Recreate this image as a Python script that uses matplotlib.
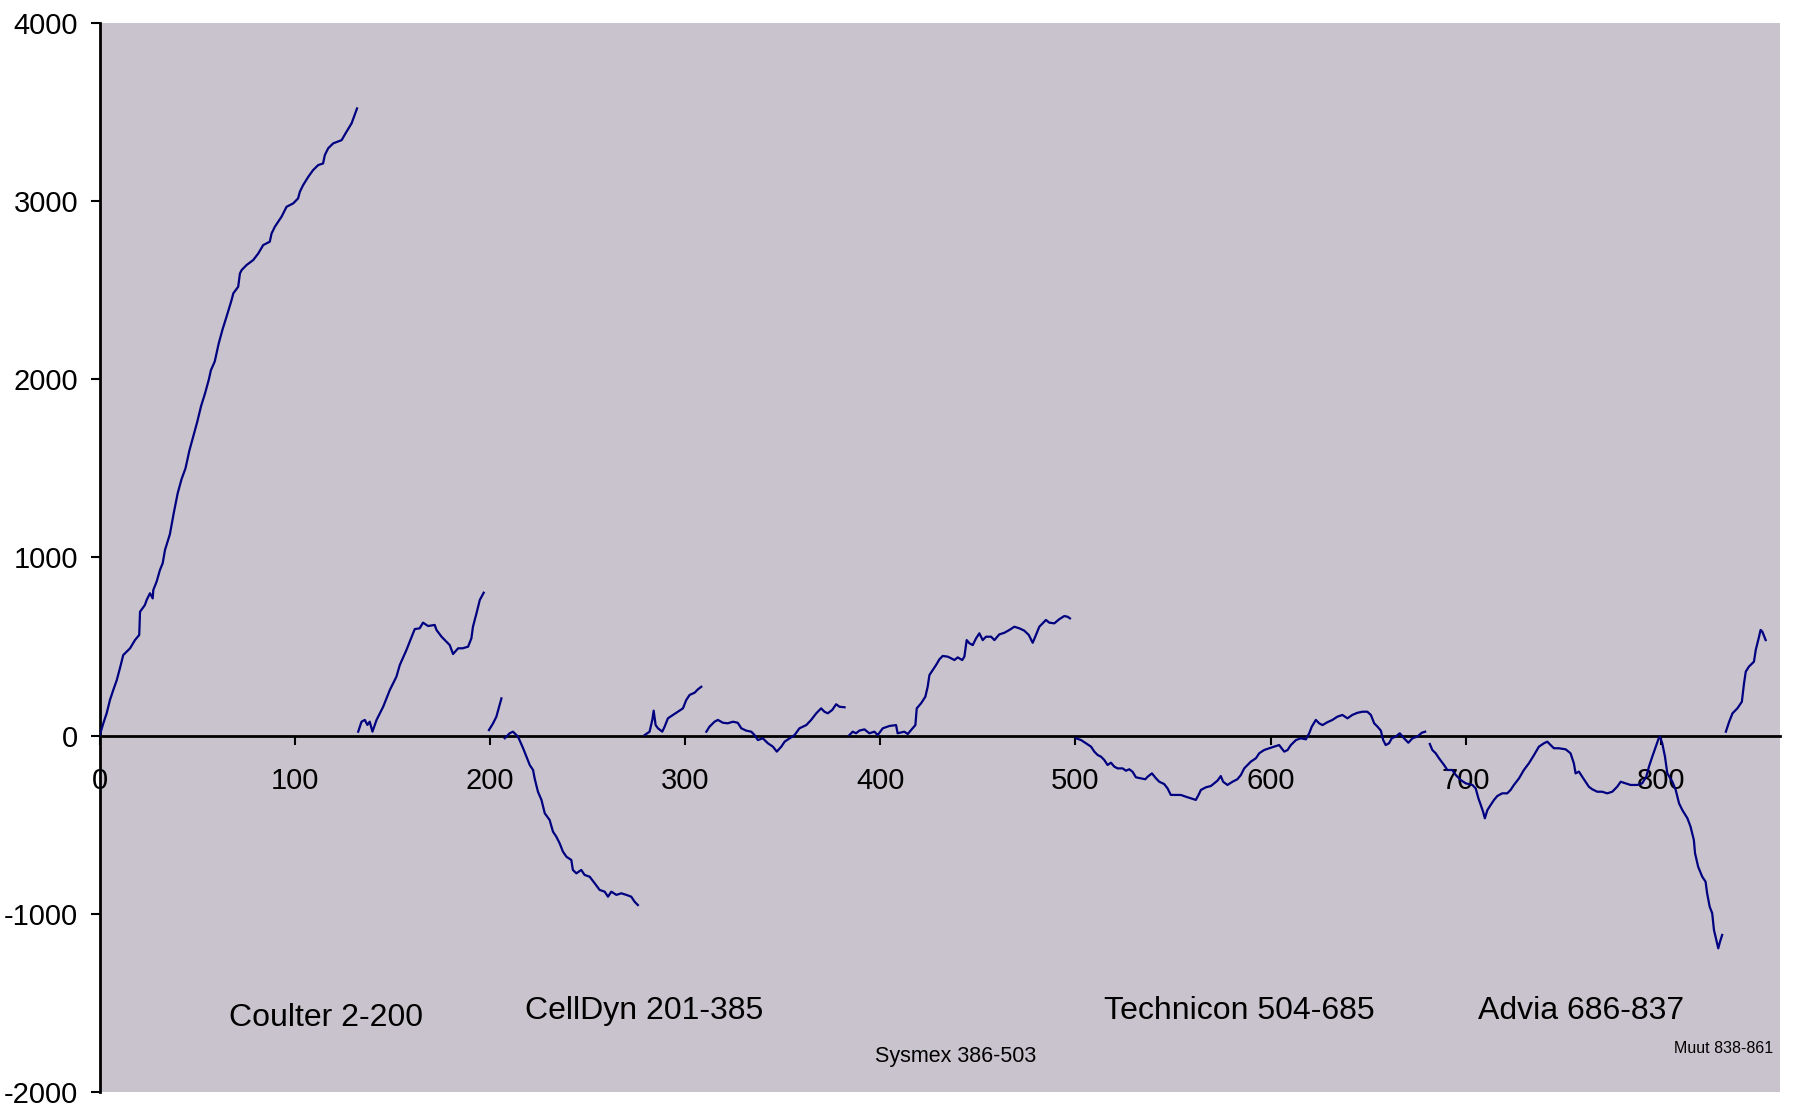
import matplotlib
matplotlib.use("Agg")
import matplotlib.pyplot as plt

plt.rcParams['font.family'] = ['Liberation Sans', 'DejaVu Sans']
plt.rcParams['axes.unicode_minus'] = False

# segments of the cumulative curve, one per analyser run (x = sample number)
coulter_x = [0, 1.9, 3.6, 5.3, 7.0, 8.8, 10.4, 12.1, 15.6, 18.1, 20.3, 20.7, 23.2, 24.1, 25.8, 27.2,
             27.5, 29.2, 30.9, 32.3, 33.5, 36, 38, 40, 42, 44, 46, 48, 50, 52, 54, 56, 57, 59, 61, 63,
             65, 67.6, 68.5, 71, 71.9, 72.8, 75.3, 78.7, 81.3, 83.8, 87.2, 88.1, 89.8, 93.2, 95.8, 99.2,
             101.7, 102.6, 104.3, 106.9, 109.4, 112, 114.5, 115.4, 117.1, 119.7, 124, 126.5, 129.1, 131.9]
coulter_y = [0, 69, 125, 200, 256, 312, 378, 452, 490, 536, 565, 695, 733, 761, 799, 770,
             817, 864, 929, 967, 1042, 1130, 1250, 1360, 1440, 1500, 1600, 1680, 1760, 1850, 1920, 2000, 2050, 2100, 2200, 2280,
             2350, 2444, 2482, 2519, 2594, 2613, 2641, 2669, 2706, 2753, 2772, 2818, 2856, 2912, 2968, 2987,
             3015, 3052, 3090, 3136, 3174, 3202, 3211, 3258, 3296, 3324, 3342, 3389, 3436, 3520]

seg2_x = [132.5, 134.2, 135.9, 137.2, 138.4, 139.8, 141.9, 145.3, 148.7, 152.1, 153.8, 157.2, 160.6, 161.5,
          164, 165.7, 168.3, 171.7, 172.6, 175.2, 177.7, 179.4, 181.1, 183.7, 186, 188.8, 190.5, 191.3,
          193.1, 194.8, 196.8]
seg2_y = [22, 78, 88, 60, 78, 22, 88, 162, 256, 331, 396, 480, 574, 598,
          602, 634, 615, 621, 593, 555, 527, 508, 458, 490, 490, 499, 546, 611,
          686, 761, 802]

seg3_x = [199.5, 201.6, 203.3, 204.7, 205.9]
seg3_y = [31, 69, 106, 162, 209]

celldyn_x = [207.6, 210.1, 211.8, 214.4, 217, 218.7, 220.4, 222.1, 222.9, 224.6, 226.4, 228.1, 230.6, 232.3,
             234, 235.7, 237.4, 239.2, 241.7, 242.5, 244.3, 246.8, 248.5, 251.1, 253.7, 256.2, 258.8, 260.5,
             262.2, 264.8, 267.3, 269.9, 272.4, 274.1, 275.8]
celldyn_y = [-15, 13, 22, -6, -71, -118, -165, -193, -240, -315, -361, -436, -474, -539,
             -567, -604, -651, -680, -698, -754, -773, -754, -782, -792, -829, -866, -876, -904,
             -876, -894, -885, -894, -904, -932, -951]

seg5_x = [279.3, 281.8, 283.2, 283.9, 284.9, 286.1, 288.3, 289.5, 291.2, 293.8, 296.3, 298.9, 300.6,
          302.3, 304.9, 306.6, 308.3]
seg5_y = [3, 22, 88, 140, 59, 41, 22, 50, 97, 116, 134, 153, 200, 228, 241, 260, 274]

seg6_x = [310.9, 312.5, 315.1, 316.8, 319.4, 321.9, 324.5, 327, 328.8, 331.3, 333.9, 335.6, 337.3, 339.8,
          342.4, 345, 347, 349.3, 351, 353.6, 356.1, 358.6, 362.1, 364.6, 367.2, 369.7, 371.4, 373.1,
          375.4, 377.4, 379.1, 381.7]
seg6_y = [22, 50, 78, 88, 72, 69, 78, 72, 41, 28, 22, 3, -25, -15,
          -43, -62, -90, -62, -34, -15, 3, 41, 59, 88, 125, 153, 134, 125,
          144, 176, 162, 159]

sysmex_x = [384.2, 385.9, 387.6, 389.3, 391.9, 394.4, 397, 398.7, 401.3, 404.7, 408.1, 408.9, 412.3, 414.1,
            415.8, 418, 418.7, 420.9, 423.1, 424.3, 425.2, 426.9, 428.6, 430.3, 432, 434.6, 436.3, 438,
            439.7, 442, 443.1, 444.3, 445.7, 447.4, 449.1, 450.8, 452.5, 454.2, 456.8, 458.5, 461, 463.6,
            466.2, 468.7, 471.3, 473.8, 476.1, 478.1, 479.8, 481.5, 483.2, 484.9, 486.6, 489.2, 491.7,
            494.3, 496, 497.2]
sysmex_y = [3, 22, 13, 28, 35, 13, 22, 3, 41, 54, 59, 13, 22, 9,
            31, 59, 153, 181, 218, 274, 340, 368, 396, 428, 447, 443, 434, 424,
            439, 424, 443, 536, 518, 508, 546, 574, 536, 555, 555, 536, 568, 577,
            593, 611, 602, 589, 565, 521, 565, 611, 630, 649, 634, 630, 653,
            671, 667, 658]

technicon_x = [500.3, 502.9, 505.4, 508, 509.7, 511.4, 513.1, 514.8, 516.5, 518.2, 519.9, 521.6, 524.2,
               525.9, 527.6, 529.3, 531, 533.6, 535.8, 537, 539.2, 541.3, 543, 545.5, 547.2, 548.9, 551.5,
               554, 556.6, 559.2, 561.7, 563.1, 564.3, 566.9, 569.4, 571.1, 572.8, 574.5, 575.7, 577.9,
               580.5, 583, 584.8, 586.5, 588.2, 589.9, 592.5, 594.2, 596.7, 599.3, 601.8, 604.4, 607,
               608.7, 610.4, 613, 615.5, 618.1, 619.8, 621.1, 623.2, 624.9, 626.6, 629.1, 631.7, 634.2,
               636.8, 639.4, 641.9, 644.5, 647.1, 649.6, 651.4, 653.1, 654.8, 656.5, 657.7, 659, 660.7,
               662.1, 664.1, 666.2, 668.4, 670.6, 672.7, 675.2, 677.5, 679.2]
technicon_y = [-15, -25, -43, -62, -90, -109, -118, -137, -165, -152, -174, -184, -184,
               -197, -189, -203, -234, -240, -245, -231, -212, -240, -259, -272, -296, -333, -333,
               -333, -343, -352, -361, -333, -305, -290, -283, -268, -253, -227, -259, -277,
               -259, -245, -221, -184, -165, -146, -127, -99, -81, -71, -62, -53, -90,
               -81, -53, -25, -15, -21, 13, 50, 88, 69, 59, 75, 88, 106,
               116, 97, 116, 128, 134, 134, 116, 69, 50, 28, -25, -53, -43,
               -15, -6, 13, -15, -40, -15, -6, 16, 22]

advia_x = [681.6, 682.9, 684.6, 686.3, 688.9, 690.6, 693.1, 694.9, 697.4, 700, 703.4, 705.1, 706.5, 707.7,
           708.9, 709.8, 711.1, 712.8, 714.5, 716.2, 718.7, 721.3, 723, 724.7, 727.3, 729.8, 732.4, 735,
           737.5, 740.1, 741.8, 743.5, 745.2, 747.7, 751.2, 753.7, 755.4, 756.3, 758, 759.7, 761.4, 763.1,
           764.8, 767.4, 769.9, 772.5, 775.1, 777.6, 779.4, 781.9, 784.5, 787.9, 790.4, 792.5, 793.9,
           795.6, 797.4, 798.7, 799.5, 800.7, 802.1, 803.3, 805.9, 807.6, 809.3, 811, 813.6, 815.2, 816.9,
           817.5, 819.1, 821.2, 822.9, 823.7, 825, 826.3, 827.2, 828.4, 829.4, 830.3, 831.4]
advia_y = [-47, -81, -99, -127, -165, -193, -193, -221, -249, -268, -277, -296, -352, -389,
           -427, -464, -418, -389, -361, -339, -324, -324, -305, -277, -240, -193, -155, -109,
           -62, -43, -34, -53, -71, -71, -77, -99, -155, -212, -202, -231, -259, -287,
           -301, -315, -315, -324, -315, -287, -259, -268, -277, -277, -268, -231, -174,
           -118, -62, -21, -6, -43, -118, -212, -259, -305, -380, -418, -464, -511, -586,
           -660, -736, -792, -820, -885, -960, -997, -1091, -1147, -1194, -1157, -1119]

muut_x = [833.3, 835, 836.7, 839.2, 841.5, 842.6, 843.5, 845.1, 847.7, 848.6, 850.3, 851.1, 852, 853.7]
muut_y = [22, 78, 125, 153, 190, 293, 359, 387, 415, 480, 555, 593, 583, 536]

segments = [(coulter_x, coulter_y), (seg2_x, seg2_y), (seg3_x, seg3_y), (celldyn_x, celldyn_y),
            (seg5_x, seg5_y), (seg6_x, seg6_y), (sysmex_x, sysmex_y), (technicon_x, technicon_y),
            (advia_x, advia_y), (muut_x, muut_y)]

# group labels: text, x, y, size
labels = [("Coulter 2-200", 116, -1585, 23),
          ("CellDyn 201-385", 279, -1545, 23),
          ("Technicon 504-685", 584, -1545, 23),
          ("Advia 686-837", 759, -1545, 23),
          ("Sysmex 386-503", 438.5, -1800, 15.5),
          ("Muut 838-861", 832, -1758, 11.5)]

fig = plt.figure(figsize=(17.95, 11.06), dpi=100)
ax = fig.add_axes([0.0555, 0.0127, 0.9361, 0.9666])
ax.set_facecolor('#C8C3CC')

for xs, ys in segments:
    ax.plot(xs, ys, color='#000080', lw=1.6, zorder=3)

for txt, x, y, size in labels:
    ax.text(x, y, txt, fontsize=size, ha='center', va='center', color='black')

ax.set_xlim(0, 861)
ax.set_ylim(-2000, 4000)
ax.set_xticks(range(0, 801, 100))
ax.set_yticks(range(-2000, 4001, 1000))

ax.spines['top'].set_visible(False)
ax.spines['right'].set_visible(False)
ax.spines['bottom'].set_position(('data', 0))
ax.spines['bottom'].set_linewidth(2)
ax.spines['left'].set_linewidth(2)
ax.spines['bottom'].set_zorder(2.5)

ax.tick_params(axis='x', direction='out', length=6.5, width=1.5, pad=16, labelsize=21)
ax.tick_params(axis='y', direction='out', length=6.5, width=1.5, pad=9, labelsize=21)

fig.savefig('out.png', dpi=100)
